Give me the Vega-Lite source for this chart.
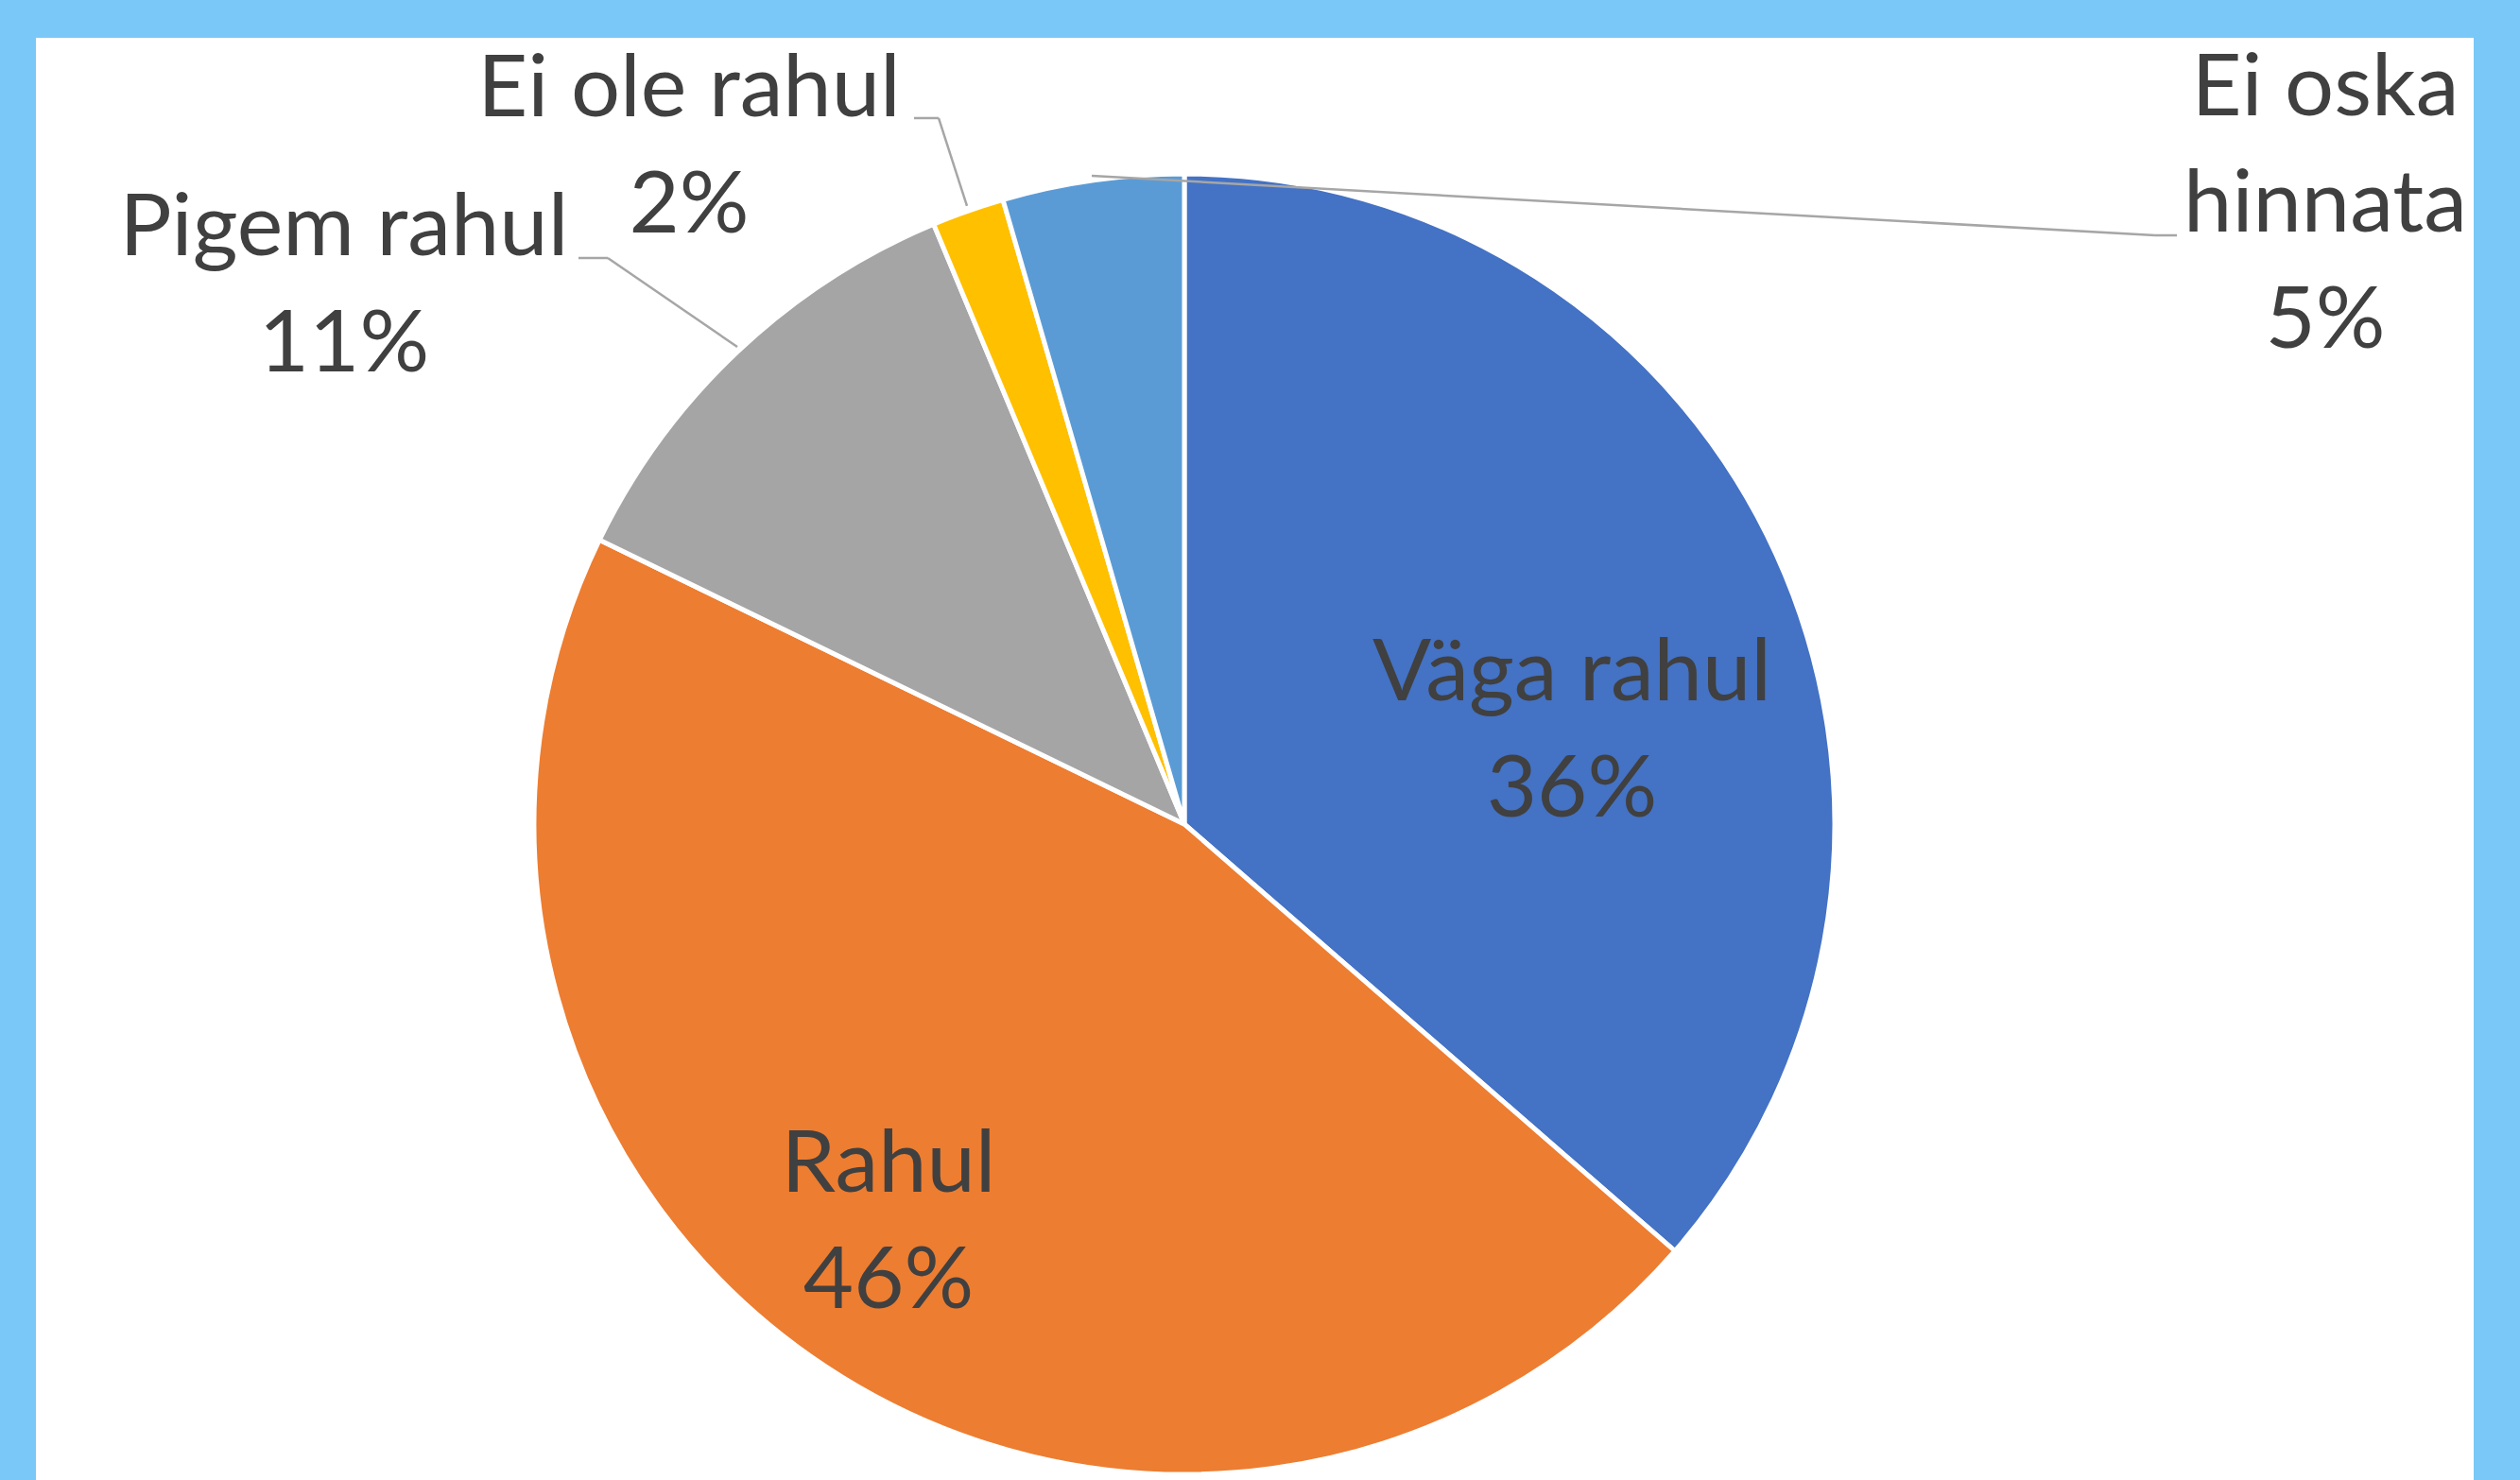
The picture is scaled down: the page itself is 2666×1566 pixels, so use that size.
{
  "$schema": "https://vega.github.io/schema/vega-lite/v6.json",
  "width": 2579,
  "height": 1526,
  "autosize": {"type": "none"},
  "padding": {"left": 38, "top": 40, "right": 49, "bottom": 0},
  "background": "#79C8F8",
  "config": {
    "view": {"fill": "white", "stroke": null},
    "text": {"font": "Lato", "fontSize": 92, "color": "#404040", "lineHeight": 123, "lineBreak": "\n"}
  },
  "data": {
    "values": [
      {"category": "Väga rahul", "share": 36.4, "n": 1, "label": "Väga rahul\n36%"},
      {"category": "Rahul", "share": 45.8, "n": 2, "label": "Rahul\n46%"},
      {"category": "Pigem rahul", "share": 11.5, "n": 3, "label": "Pigem rahul\n11%"},
      {"category": "Ei ole rahul", "share": 1.8, "n": 4, "label": "Ei ole rahul\n2%"},
      {"category": "Ei oska hinnata", "share": 4.5, "n": 5, "label": "Ei oska\nhinnata\n5%"}
    ]
  },
  "layer": [
    {
      "mark": {"type": "arc", "outerRadius": 688, "stroke": "white", "strokeWidth": 5},
      "encoding": {
        "x": {"datum": 0, "type": "quantitative", "scale": {"domain": [-1.766, 1.9826], "nice": false, "zero": false}, "axis": null},
        "y": {"datum": 0, "type": "quantitative", "scale": {"domain": [-1.0087, 1.2093], "nice": false, "zero": false}, "axis": null},
        "theta": {"field": "share", "type": "quantitative", "stack": true},
        "order": {"field": "n", "type": "quantitative"},
        "color": {
          "field": "category", "type": "nominal", "legend": null,
          "scale": {
            "domain": ["Väga rahul", "Rahul", "Pigem rahul", "Ei ole rahul", "Ei oska hinnata"],
            "range": ["#4472C4", "#ED7D31", "#A5A5A5", "#FFC000", "#5B9BD5"]
          }
        }
      }
    },
    {
      "transform": [{"filter": "datum.category === 'Pigem rahul'"}],
      "mark": {"type": "rule", "color": "#A6A6A6", "strokeWidth": 2.5},
      "encoding": {"x": {"datum": -0.9317, "type": "quantitative"}, "x2": {"datum": -0.8866}, "y": {"datum": 0.8706, "type": "quantitative"}, "y2": {"datum": 0.8706}}
    },
    {
      "transform": [{"filter": "datum.category === 'Pigem rahul'"}],
      "mark": {"type": "rule", "color": "#A6A6A6", "strokeWidth": 2.5},
      "encoding": {"x": {"datum": -0.8866, "type": "quantitative"}, "x2": {"datum": -0.6875}, "y": {"datum": 0.8706, "type": "quantitative"}, "y2": {"datum": 0.734}}
    },
    {
      "transform": [{"filter": "datum.category === 'Ei ole rahul'"}],
      "mark": {"type": "rule", "color": "#A6A6A6", "strokeWidth": 2.5},
      "encoding": {"x": {"datum": -0.4157, "type": "quantitative"}, "x2": {"datum": -0.3779}, "y": {"datum": 1.0858, "type": "quantitative"}, "y2": {"datum": 1.0858}}
    },
    {
      "transform": [{"filter": "datum.category === 'Ei ole rahul'"}],
      "mark": {"type": "rule", "color": "#A6A6A6", "strokeWidth": 2.5},
      "encoding": {"x": {"datum": -0.3779, "type": "quantitative"}, "x2": {"datum": -0.3343}, "y": {"datum": 1.0858, "type": "quantitative"}, "y2": {"datum": 0.9506}}
    },
    {
      "transform": [{"filter": "datum.category === 'Ei oska hinnata'"}],
      "mark": {"type": "rule", "color": "#A6A6A6", "strokeWidth": 2.5},
      "encoding": {"x": {"datum": -0.1424, "type": "quantitative"}, "x2": {"datum": 1.4927}, "y": {"datum": 0.9971, "type": "quantitative"}, "y2": {"datum": 0.9055}}
    },
    {
      "transform": [{"filter": "datum.category === 'Ei oska hinnata'"}],
      "mark": {"type": "rule", "color": "#A6A6A6", "strokeWidth": 2.5},
      "encoding": {"x": {"datum": 1.4927, "type": "quantitative"}, "x2": {"datum": 1.5262}, "y": {"datum": 0.9055, "type": "quantitative"}, "y2": {"datum": 0.9055}}
    },
    {
      "transform": [{"filter": "datum.category === 'Väga rahul'"}],
      "mark": {"type": "text", "align": "center", "baseline": "alphabetic"},
      "encoding": {"x": {"datum": 0.5959, "type": "quantitative"}, "y": {"datum": 0.1904, "type": "quantitative"}, "text": {"field": "label"}}
    },
    {
      "transform": [{"filter": "datum.category === 'Rahul'"}],
      "mark": {"type": "text", "align": "center", "baseline": "alphabetic"},
      "encoding": {"x": {"datum": -0.4549, "type": "quantitative"}, "y": {"datum": -0.5654, "type": "quantitative"}, "text": {"field": "label"}}
    },
    {
      "transform": [{"filter": "datum.category === 'Pigem rahul'"}],
      "mark": {"type": "text", "align": "center", "baseline": "alphabetic"},
      "encoding": {"x": {"datum": -1.2922, "type": "quantitative"}, "y": {"datum": 0.875, "type": "quantitative"}, "text": {"field": "label"}}
    },
    {
      "transform": [{"filter": "datum.category === 'Ei ole rahul'"}],
      "mark": {"type": "text", "align": "center", "baseline": "alphabetic"},
      "encoding": {"x": {"datum": -0.7616, "type": "quantitative"}, "y": {"datum": 1.0887, "type": "quantitative"}, "text": {"field": "label"}}
    },
    {
      "transform": [{"filter": "datum.category === 'Ei oska hinnata'"}],
      "mark": {"type": "text", "align": "center", "baseline": "alphabetic"},
      "encoding": {"x": {"datum": 1.7544, "type": "quantitative"}, "y": {"datum": 1.0901, "type": "quantitative"}, "text": {"field": "label"}}
    }
  ]
}
